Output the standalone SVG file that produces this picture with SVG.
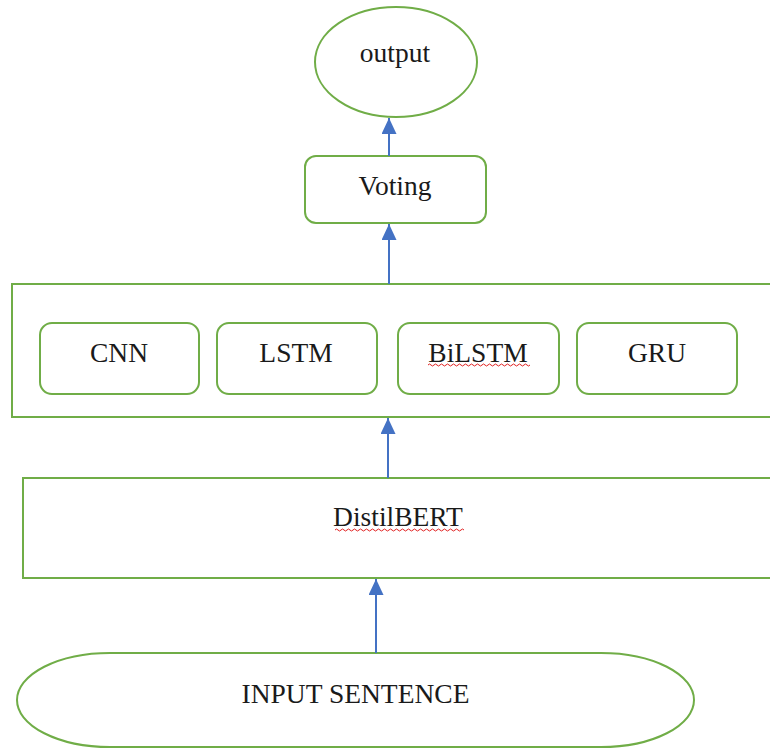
<svg xmlns="http://www.w3.org/2000/svg" width="770" height="751" viewBox="0 0 770 751">
<style>
.n{fill:#fff;stroke:#70AD47;stroke-width:2}
.t{font-family:'Liberation Serif','Times New Roman','DejaVu Serif',serif;font-size:27.5px;fill:#1a1a1a;text-anchor:middle}
.c{stroke:#4472C4;stroke-width:2;fill:none;marker-end:url(#ah)}
.sq{stroke:#E02020;stroke-width:1;fill:none}
</style>
<defs>
<marker id="ah" markerUnits="userSpaceOnUse" markerWidth="16" markerHeight="18" refX="16" refY="7.5" orient="auto">
<path d="M0,0 L16,7.5 L0,15 Z" fill="#4472C4"/>
</marker>
</defs>
<rect width="770" height="751" fill="#fff"/>
<g id="input">
<path class="n" d="M110,653 L601,653 A93,47 0 0 1 601,747 L110,747 A93,47 0 0 1 110,653 Z"/>
<text class="t" x="355.5" y="703">INPUT SENTENCE</text>
</g>
<g id="distilbert">
<rect class="n" x="23" y="478" width="770" height="100"/>
<text class="t" x="398" y="526">DistilBERT</text>
<path class="sq" d="M335,530 q1.5,-2 3,0 t3,0 t3,0 t3,0 t3,0 t3,0 t3,0 t3,0 t3,0 t3,0 t3,0 t3,0 t3,0 t3,0 t3,0 t3,0 t3,0 t3,0 t3,0 t3,0 t3,0 t3,0 t3,0 t3,0 t3,0 t3,0 t3,0 t3,0 t3,0 t3,0 t3,0 t3,0 t3,0 t3,0 t3,0 t3,0 t3,0 t3,0 t3,0 t3,0 t3,0 t3,0 t3,0"/>
</g>
<g id="models">
<rect class="n" x="12" y="284" width="770" height="133"/>
</g>
<g id="cnn">
<rect class="n" x="40" y="323" width="159" height="71" rx="12"/>
<text class="t" x="119" y="362">CNN</text>
</g>
<g id="lstm">
<rect class="n" x="217" y="323" width="160" height="71" rx="12"/>
<text class="t" x="296" y="362">LSTM</text>
</g>
<g id="bilstm">
<rect class="n" x="398" y="323" width="161" height="71" rx="12"/>
<text class="t" x="478" y="362">BiLSTM</text>
<path class="sq" d="M428,365 q1.5,-2 3,0 t3,0 t3,0 t3,0 t3,0 t3,0 t3,0 t3,0 t3,0 t3,0 t3,0 t3,0 t3,0 t3,0 t3,0 t3,0 t3,0 t3,0 t3,0 t3,0 t3,0 t3,0 t3,0 t3,0 t3,0 t3,0 t3,0 t3,0 t3,0 t3,0 t3,0 t3,0 t3,0 t3,0"/>
</g>
<g id="gru">
<rect class="n" x="577" y="323" width="160" height="71" rx="12"/>
<text class="t" x="657" y="362">GRU</text>
</g>
<g id="voting">
<rect class="n" x="305" y="156" width="181" height="67" rx="11"/>
<text class="t" x="395" y="195">Voting</text>
</g>
<g id="output">
<ellipse class="n" cx="396" cy="62" rx="81" ry="55"/>
<text class="t" x="395" y="62">output</text>
</g>
<g id="connectors">
<line class="c" x1="376" y1="653" x2="376" y2="579"/>
<line class="c" x1="388" y1="478" x2="388" y2="418"/>
<line class="c" x1="389" y1="284" x2="389" y2="224"/>
<line class="c" x1="389" y1="156" x2="389" y2="118"/>
</g>
</svg>
